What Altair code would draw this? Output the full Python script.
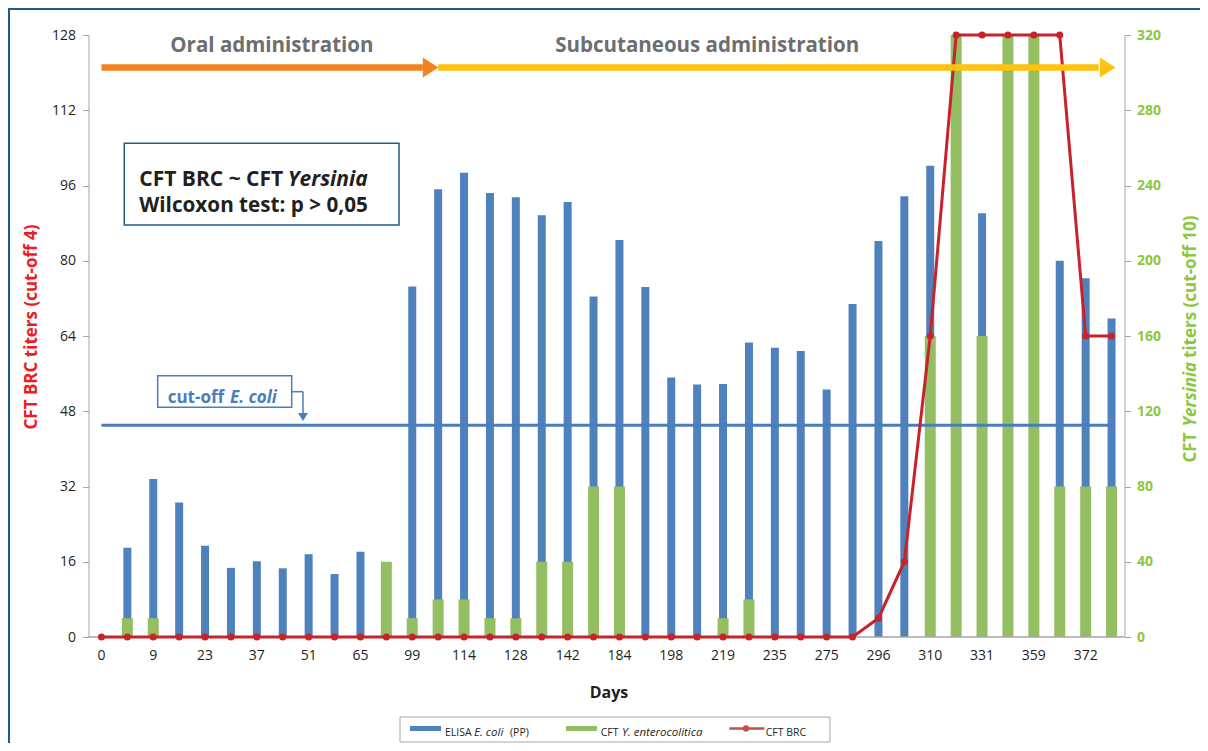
import altair as alt
import pandas as pd

# ---------------- data ----------------
idx = [0, 1, 2, 3, 4, 5, 6, 7, 8, 9, 10, 11, 12, 13, 14, 15, 16, 17, 18, 19,
       20, 21, 22, 23, 24, 25, 26, 27, 28, 29, 30, 31, 32, 33, 34, 35, 36, 37, 38, 39]
label_idx = [0, 2, 4, 6, 8, 10, 12, 14, 16, 18, 20, 22, 24, 26, 28, 30, 32, 34, 36, 38]
day_labels = ["0", "9", "23", "37", "51", "65", "99", "114", "128", "142",
              "184", "198", "219", "235", "275", "296", "310", "331", "359", "372"]
elisa = [None, 19, 33.6, 28.6, 19.4, 14.7, 16.1, 14.6, 17.6, 13.4,
         18.1, None, 74.5, 95.2, 98.7, 94.4, 93.5, 89.7, 92.5, 72.4,
         84.4, 74.4, 55.2, 53.7, 53.8, 62.6, 61.5, 60.8, 52.6, 70.8,
         84.2, 93.7, 100.2, None, 90.1, None, None, 80, 76.3, 67.7]
yersinia = [None, 10, 10, None, None, None, None, None, None, None,
            None, 40, 10, 20, 20, 10, 10, 40, 40, 80,
            80, None, None, None, 10, 20, None, None, None, None,
            None, None, 160, 320, 160, 320, 320, 80, 80, 80]
brc = [0, 0, 0, 0, 0, 0, 0, 0, 0, 0,
       0, 0, 0, 0, 0, 0, 0, 0, 0, 0,
       0, 0, 0, 0, 0, 0, 0, 0, 0, 0,
       4, 16, 64, 128, 128, 128, 128, 128, 64, 64]
left_ticks = [0, 16, 32, 48, 64, 80, 96, 112, 128]
right_ticks = [0, 40, 80, 120, 160, 200, 240, 280, 320]
cutoff_value = [45]
cutoff_from = [0]
cutoff_to = [39]

phases = ["Oral administration", "Subcutaneous administration"]
phase_start = [0, 13]
phase_line_end = [12.41, 38.5]
phase_head = [12.71, 38.85]
phase_text_x = [6.58, 23.39]
arrow_level = [121.1, 121.1]
phase_text_level = [124.4, 124.4]

box_line1 = ["CFT BRC ~ CFT ", "Yersinia"]
box_line2 = ["Wilcoxon test: p > 0,05"]
cutoff_label = ["cut-off ", "E. coli"]
left_title = ["CFT BRC titers (cut-off 4)"]
right_title = ["CFT ", "Yersinia", "titers (cut-off 10)"]
x_title = ["Days"]
legend_texts = ["ELISA", "E. coli", "(PP)", "CFT", "Y. enterocolitica", "CFT BRC"]

BLUE = "#4F81BD"
GREEN = "#93BE62"
RED = "#C8222B"
CUT_BLUE = "#4A7EBB"
FRAME = "#1F5C8B"
ORANGE = "#F58220"
YELLOW = "#FFC20E"
TXT = "#231F20"
GRAY = "#A6A6A6"
GREEN_TXT = "#8DC63F"
FONT = "Open Sans"

df = pd.DataFrame({"i": idx, "elisa": elisa, "yers": yersinia, "brc": brc})
lab_df = pd.DataFrame({"i": label_idx, "lab": day_labels})

xs = alt.Scale(domain=[-0.5, 39.5], nice=False, zero=False, padding=0)
ys_left = alt.Scale(domain=[0, 128], nice=False, zero=True)
ys_right = alt.Scale(domain=[0, 320], nice=False, zero=True)

x_axis = alt.Axis(labels=False, ticks=False, domainColor=GRAY, domainWidth=1.5,
                  grid=False, title=None)
X = alt.X("i:Q", scale=xs, axis=x_axis)
Xn = alt.X("i:Q", scale=xs, axis=None)

base = alt.Chart(df)

blue = base.mark_bar(size=8, color=BLUE).encode(
    x=X,
    y=alt.Y("elisa:Q", scale=ys_left,
            axis=alt.Axis(values=left_ticks, tickSize=6, tickColor=GRAY, domainColor=GRAY,
                          labelFontSize=14, labelColor=TXT, labelPadding=7, grid=False, title=None)),
)

green = base.mark_bar(size=11, color=GREEN).encode(
    x=Xn,
    y=alt.Y("yers:Q", scale=ys_right,
            axis=alt.Axis(orient="right", values=right_ticks, tickSize=6, tickColor=GRAY,
                          domainColor=GRAY, labelFontSize=14, labelColor=GREEN_TXT,
                          labelFontWeight="bold", labelPadding=6, grid=False, title=None)),
)

baseline_df = pd.DataFrame({"x0": [-0.5], "x1": [39.5], "y": [0]})
baseline = alt.Chart(baseline_df).mark_rule(color=GRAY, strokeWidth=1.5).encode(
    x=alt.X("x0:Q", scale=xs, axis=None), x2="x1:Q",
    y=alt.Y("y:Q", scale=ys_left, axis=None),
)

x_labels = alt.Chart(lab_df).mark_text(fontSize=14, color=TXT, align="center",
                                       baseline="alphabetic").encode(
    x=alt.X("i:Q", scale=xs, axis=None), y=alt.value(624.5), text="lab:N",
)

cut_df = pd.DataFrame({"x0": cutoff_from, "x1": cutoff_to, "y": cutoff_value})
cutoff = alt.Chart(cut_df).mark_rule(color=CUT_BLUE, strokeWidth=3).encode(
    x=alt.X("x0:Q", scale=xs, axis=None), x2="x1:Q",
    y=alt.Y("y:Q", scale=ys_left, axis=None),
)

red_line = base.mark_line(color=RED, strokeWidth=3).encode(
    x=Xn,
    y=alt.Y("brc:Q", scale=ys_left, axis=None),
)
red_pts = base.mark_circle(color=RED, size=50, opacity=1).encode(
    x=Xn,
    y=alt.Y("brc:Q", scale=ys_left, axis=None),
)

ph_df = pd.DataFrame({"phase": phases, "x0": phase_start, "x1": phase_line_end,
                      "hx": phase_head, "tx": phase_text_x, "y": arrow_level,
                      "ty": phase_text_level})
ph_color = alt.Color("phase:N", scale=alt.Scale(domain=phases, range=[ORANGE, YELLOW]), legend=None)
arrow_lines = alt.Chart(ph_df).mark_rule(strokeWidth=6.5, strokeCap="butt").encode(
    x=alt.X("x0:Q", scale=xs, axis=None), x2="x1:Q",
    y=alt.Y("y:Q", scale=ys_left, axis=None), color=ph_color,
)
arrow_heads = alt.Chart(ph_df).mark_point(
    shape="M -0.78 -1 L 0.78 0 L -0.78 1 Z", filled=True, size=400, opacity=1, strokeWidth=0
).encode(
    x=alt.X("hx:Q", scale=xs, axis=None),
    y=alt.Y("y:Q", scale=ys_left, axis=None), color=ph_color,
)
phase_txt = alt.Chart(ph_df).mark_text(fontSize=20.5, fontWeight="bold", color="#6D6E71",
                                       align="center", baseline="alphabetic").encode(
    x=alt.X("tx:Q", scale=xs, axis=None),
    y=alt.Y("ty:Q", scale=ys_left, axis=None),
    text="phase:N",
)


def one(text):
    return alt.Chart(pd.DataFrame({"t": [text]}))


def label(text, x, y, **kw):
    return one(text).mark_text(**kw).encode(x=alt.value(x), y=alt.value(y), text="t:N")


def rect(x, x2, y, y2, **kw):
    return one("r").mark_rect(**kw).encode(x=alt.value(x), x2=alt.value(x2),
                                           y=alt.value(y), y2=alt.value(y2))


def hrule(x, x2, y, **kw):
    return one("h").mark_rule(**kw).encode(x=alt.value(x), x2=alt.value(x2), y=alt.value(y))


def vrule(x, y, y2, **kw):
    return one("v").mark_rule(**kw).encode(x=alt.value(x), y=alt.value(y), y2=alt.value(y2))


annot = [
    # outer frame
    vrule(-79.5, -27, 708, color=FRAME, strokeWidth=2),
    hrule(-80.5, 1111.5, -26, color=FRAME, strokeWidth=2),
    # statistics box
    rect(35.8, 310.5, 108.3, 190, fill="white", stroke=FRAME, strokeWidth=1.5),
    label(box_line1[0], 50.8, 144.5, fontSize=21, fontWeight="bold", color=TXT, align="left"),
    label(box_line1[1], 279.2, 144.5, fontSize=21, fontWeight="bold", fontStyle="italic", color=TXT, align="right"),
    label(box_line2[0], 50.8, 171, fontSize=20.7, fontWeight="bold", color=TXT, align="left"),
    # cut-off label
    rect(69.2, 203.2, 340.7, 372.3, fill="white", stroke=CUT_BLUE, strokeWidth=1.5),
    label(cutoff_label[0], 79.2, 363.3, fontSize=17, fontWeight="bold", color=CUT_BLUE, align="left"),
    label(cutoff_label[1], 141.5, 363.3, fontSize=17, fontWeight="bold", fontStyle="italic", color=CUT_BLUE, align="left"),
    hrule(203.2, 214.5, 356.7, color=CUT_BLUE, strokeWidth=1.5),
    vrule(214.5, 356.7, 380, color=CUT_BLUE, strokeWidth=1.5),
    one("a").mark_point(shape="M -1 -0.8 L 1 -0.8 L 0 0.8 Z", filled=True, size=100, opacity=1,
                        strokeWidth=0, color=CUT_BLUE).encode(x=alt.value(214.5), y=alt.value(382)),
    # axis titles
    label(left_title[0], -56.5, 292, angle=270, fontSize=17, fontWeight="bold", color="#ED1C24",
          align="center", baseline="middle"),
    label(right_title[0], 1102.5, 427.5, angle=270, fontSize=17, fontWeight="bold", color=GREEN_TXT,
          align="left", baseline="middle"),
    label(right_title[1], 1102.5, 391.5, angle=270, fontSize=17, fontWeight="bold", fontStyle="italic",
          color=GREEN_TXT, align="left", baseline="middle"),
    label(right_title[2], 1102.5, 323, angle=270, fontSize=17, fontWeight="bold", color=GREEN_TXT,
          align="left", baseline="middle"),
    label(x_title[0], 520.5, 658, fontSize=16, fontWeight="bold", color=TXT, align="center"),
    # legend
    rect(311.5, 741.5, 682, 707, fill="white", stroke=GRAY, strokeWidth=1),
    rect(321.5, 352.5, 691, 696, fill=BLUE),
    label(legend_texts[0], 356.5, 698, fontSize=10.5, color=TXT, align="left"),
    label(legend_texts[1], 385.5, 698, fontSize=11.5, fontStyle="italic", color=TXT, align="left"),
    label(legend_texts[2], 421.5, 698, fontSize=10.5, color=TXT, align="left"),
    rect(477.5, 508.5, 691, 696, fill=GREEN),
    label(legend_texts[3], 512.2, 698, fontSize=10.5, color=TXT, align="left"),
    label(legend_texts[4], 533.5, 698, fontSize=11.5, fontStyle="italic", color=TXT, align="left"),
    hrule(640.8, 675.8, 693.5, color="#C0504D", strokeWidth=2.5),
    one("d").mark_circle(size=40, opacity=1, color="#C0504D").encode(x=alt.value(657.5), y=alt.value(693.5)),
    label(legend_texts[5], 677.2, 698, fontSize=10.5, color=TXT, align="left"),
]

chart = alt.layer(
    blue, green, baseline, x_labels, cutoff, red_line, red_pts,
    arrow_lines, arrow_heads, phase_txt, *annot
).resolve_scale(y="independent").properties(
    width=1036, height=602,
    autosize=alt.AutoSizeParams(type="none"),
    padding={"left": 80.5, "top": 27, "right": 75.5, "bottom": 106},
).configure(font=FONT).configure_view(strokeWidth=0)

chart.save("out.html", embed_options={"renderer": "svg", "actions": False})
